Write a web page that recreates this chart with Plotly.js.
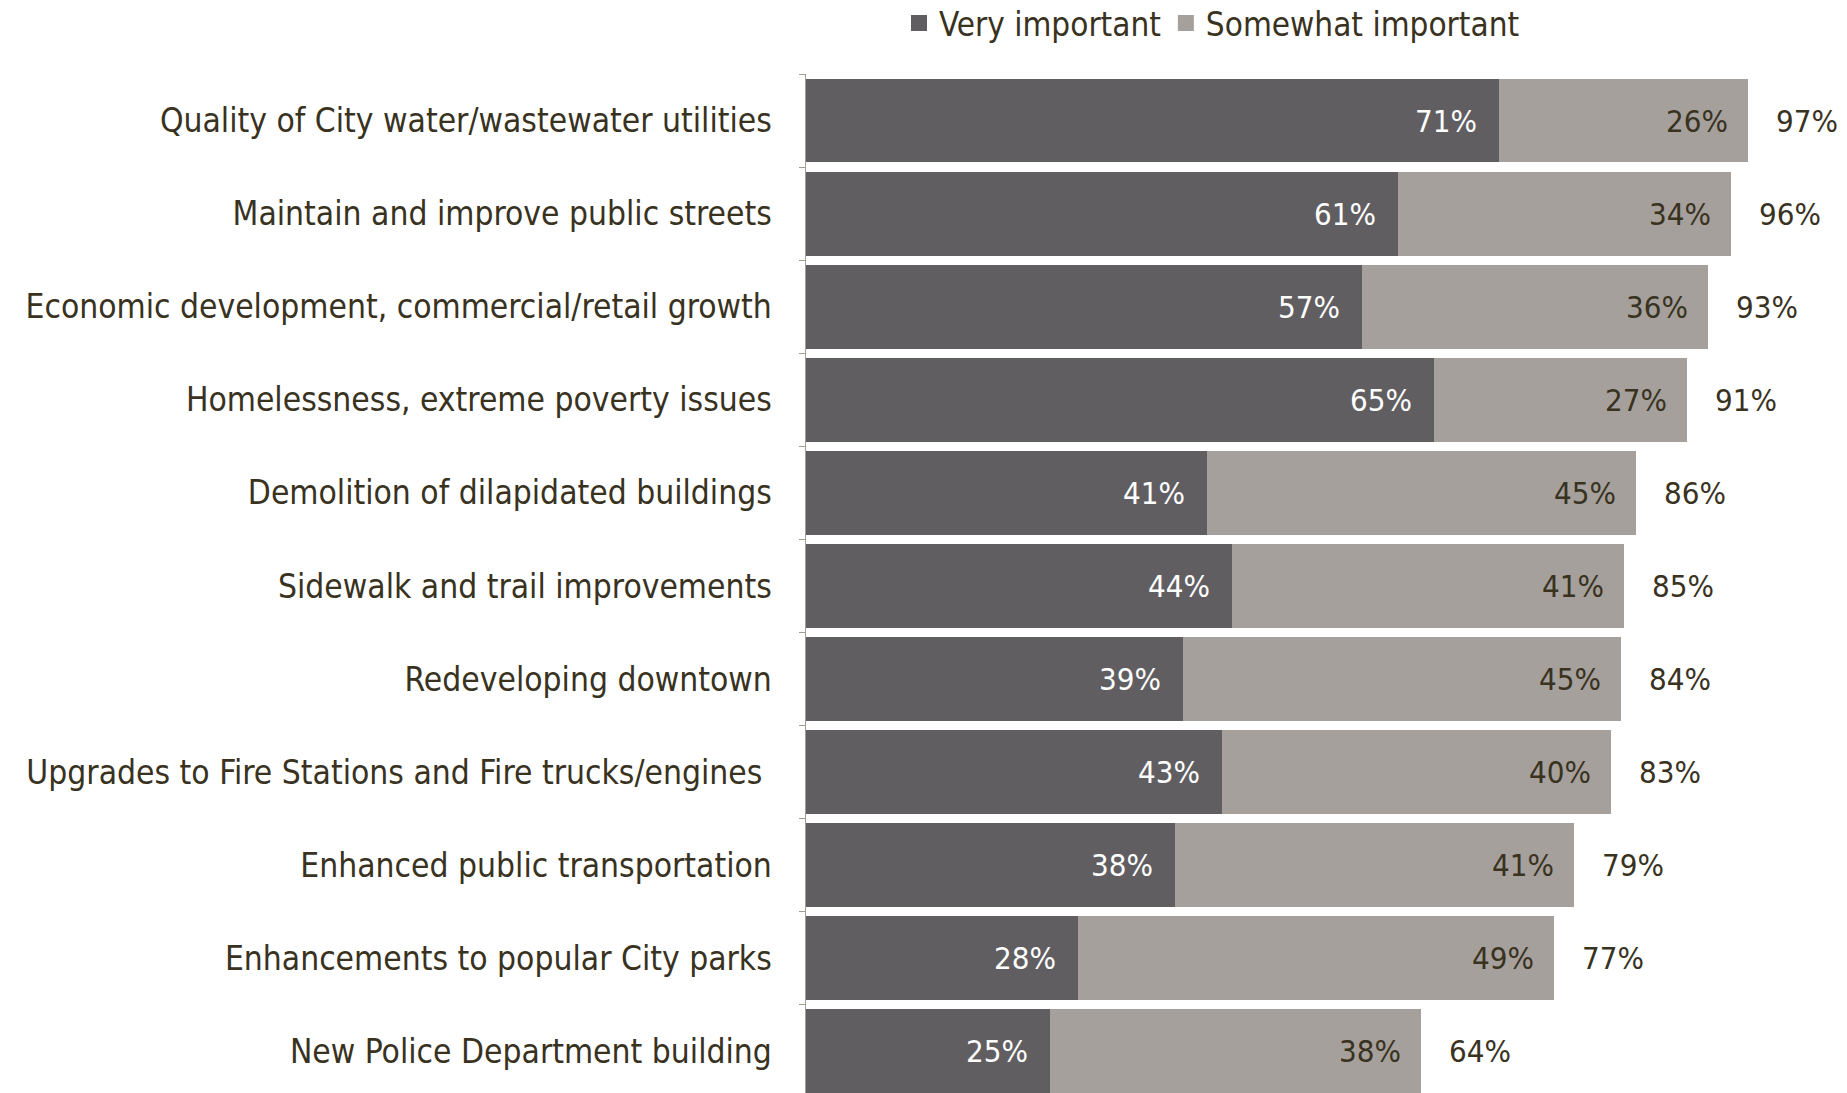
<!DOCTYPE html>
<html>
<head>
<meta charset="utf-8">
<script src="https://cdn.plot.ly/plotly-3.0.1.min.js"></script>
<style>
  html, body { margin: 0; padding: 0; background: #fff; }
  #chart { width: 1847px; height: 1093px; }
</style>
</head>
<body>
<div id="chart"></div>
<script>
var categories = [
    "Quality of City water/wastewater utilities",
    "Maintain and improve public streets",
    "Economic development, commercial/retail growth",
    "Homelessness, extreme poverty issues",
    "Demolition of dilapidated buildings",
    "Sidewalk and trail improvements",
    "Redeveloping downtown",
    "Upgrades to Fire Stations and Fire trucks/engines\u00a0",
    "Enhanced public transportation",
    "Enhancements to popular City parks",
    "New Police Department building"
];

// bar lengths
var veryImportant = [71.0, 60.7, 57.0, 64.4, 41.1, 43.7, 38.6, 42.6, 37.8, 27.9, 25.0];
var somewhatImportant = [25.6, 34.1, 35.5, 25.9, 44.0, 40.1, 44.9, 39.9, 40.9, 48.8, 38.0];

// printed labels
var veryLabels = [71, 61, 57, 65, 41, 44, 39, 43, 38, 28, 25];
var somewhatLabels = [26, 34, 36, 27, 45, 41, 45, 40, 41, 49, 38];
var totalLabels = [97, 96, 93, 91, 86, 85, 84, 83, 79, 77, 64];

var seriesNames = ["Very important", "Somewhat important"];

var darkColor = "#615e62";
var lightColor = "#a6a09c";
var textColor = "#38321f";
var fontFamily = "'DejaVu Sans Condensed', 'DejaVu Sans', sans-serif";

var data = [{
    type: "bar",
    orientation: "h",
    name: seriesNames[0],
    y: categories,
    x: veryImportant,
    marker: {color: darkColor},
    showlegend: false,
    hoverinfo: "none"
}, {
    type: "bar",
    orientation: "h",
    name: seriesNames[1],
    y: categories,
    x: somewhatImportant,
    marker: {color: lightColor},
    showlegend: false,
    hoverinfo: "none"
}];

// legend entries with bigger square swatches
[darkColor, lightColor].forEach(function(col, i) {
    data.push({
        type: "scatter",
        mode: "markers",
        name: seriesNames[i],
        x: [null],
        y: [null],
        marker: {symbol: "square", size: 18, color: col},
        hoverinfo: "none"
    });
});

var annotations = [];
categories.forEach(function(cat, i) {
    var end = veryImportant[i] + somewhatImportant[i];
    annotations.push({
        x: veryImportant[i], y: cat, xref: "x", yref: "y",
        text: veryLabels[i] + "%", showarrow: false,
        xanchor: "right", xshift: -20,
        font: {family: fontFamily, size: 31, color: "#ffffff"}
    });
    annotations.push({
        x: end, y: cat, xref: "x", yref: "y",
        text: somewhatLabels[i] + "%", showarrow: false,
        xanchor: "right", xshift: -18,
        font: {family: fontFamily, size: 31, color: textColor}
    });
    annotations.push({
        x: end, y: cat, xref: "x", yref: "y",
        text: totalLabels[i] + "%", showarrow: false,
        xanchor: "left", xshift: 26,
        font: {family: fontFamily, size: 31, color: textColor}
    });
});

var layout = {
    width: 1847,
    height: 1093,
    margin: {l: 806, r: 0, t: 74, b: 0, autoexpand: false},
    barmode: "stack",
    bargap: 0.1,
    paper_bgcolor: "#ffffff",
    plot_bgcolor: "#ffffff",
    font: {family: fontFamily, size: 33.3, color: textColor},
    showlegend: true,
    legend: {
        orientation: "h",
        x: 0.39, xanchor: "center",
        y: 1.05, yanchor: "middle",
        font: {family: fontFamily, size: 33, color: textColor},
        itemwidth: 30,
        tracegroupgap: 0,
        traceorder: "normal"
    },
    xaxis: {
        range: [0, 106.7],
        showgrid: false,
        zeroline: false,
        showticklabels: false,
        showline: false,
        fixedrange: true
    },
    yaxis: {
        type: "category",
        range: [10.448, -0.5],
        showgrid: false,
        showline: true,
        linecolor: "#a49e90",
        linewidth: 1.5,
        ticks: "outside",
        tickson: "boundaries",
        ticklen: 6,
        tickcolor: "#a49e90",
        ticklabelstandoff: 26,
        fixedrange: true
    },
    annotations: annotations
};

Plotly.newPlot("chart", data, layout, {displayModeBar: false, staticPlot: true});
</script>
</body>
</html>
